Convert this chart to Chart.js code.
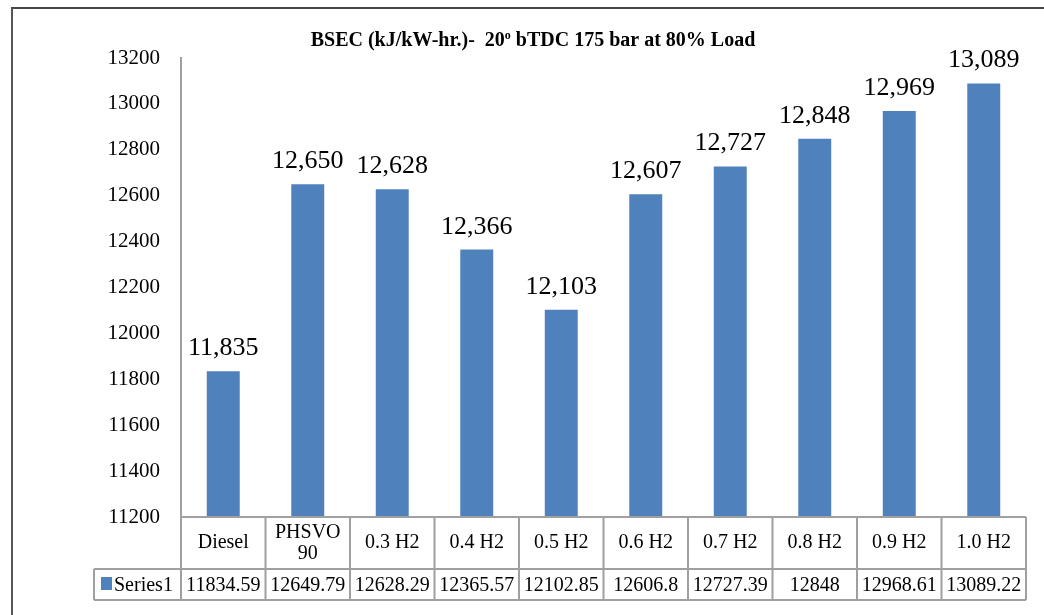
<!DOCTYPE html>
<html>
<head>
<meta charset="utf-8">
<script src="https://cdn.jsdelivr.net/npm/chart.js@4.4.0/dist/chart.umd.min.js"></script>
<style>
    html, body { margin: 0; padding: 0; background: #fff; }
    #wrap { position: relative; width: 1044px; height: 615px; overflow: hidden; }
    #frame { position: absolute; left: 11px; top: 7px; width: 1100px; height: 700px;
             border-left: 2px solid #555; border-top: 2px solid #444; }
    canvas { position: absolute; left: 0; top: 0; }
</style>
</head>
<body>
<div id="wrap">
    <div id="frame"></div>
    <canvas id="bsec-chart" width="1044" height="615"></canvas>
</div>
<script>
const categories = ['Diesel', 'PHSVO\n90', '0.3 H2', '0.4 H2', '0.5 H2', '0.6 H2', '0.7 H2', '0.8 H2', '0.9 H2', '1.0 H2'];
const series1 = [11834.59, 12649.79, 12628.29, 12365.57, 12102.85, 12606.8, 12727.39, 12848, 12968.61, 13089.22];
const seriesName = 'Series1';
const yMin = 11200;
const yMax = 13200;
const yStep = 200;

const BAR_COLOR = '#4F81BD';
const LINE_COLOR = '#a0a0a0';
const SERIF = '"Liberation Serif", "Times New Roman", serif';

const titlePlugin = {
    id: 'titlePlugin',
    afterDraw(chart) {
        const ctx = chart.ctx;
        const parts = [
            { t: 'BSEC (kJ/kW-hr.)-  20', f: 'bold 20px ' + SERIF, dy: 0 },
            { t: 'o', f: 'bold 12px ' + SERIF, dy: -7 },
            { t: ' bTDC 175 bar at 80% Load', f: 'bold 20px ' + SERIF, dy: 0 }
        ];
        ctx.save();
        let total = 0;
        parts.forEach(p => { ctx.font = p.f; p.w = ctx.measureText(p.t).width; total += p.w; });
        let x = 533 - total / 2;
        ctx.fillStyle = '#000';
        ctx.textBaseline = 'alphabetic';
        ctx.textAlign = 'left';
        parts.forEach(p => {
            ctx.font = p.f;
            ctx.fillText(p.t, x, 46 + p.dy);
            x += p.w;
        });
        ctx.restore();
    }
};

const labelPlugin = {
    id: 'labelPlugin',
    afterDatasetsDraw(chart) {
        const ctx = chart.ctx;
        const meta = chart.getDatasetMeta(0);
        ctx.save();
        ctx.font = '26px ' + SERIF;
        ctx.fillStyle = '#000';
        ctx.textAlign = 'center';
        ctx.textBaseline = 'alphabetic';
        meta.data.forEach((bar, i) => {
            const txt = Math.round(series1[i]).toLocaleString('en-US');
            ctx.fillText(txt, bar.x, bar.y - 16);
        });
        ctx.restore();
    }
};

const tablePlugin = {
    id: 'tablePlugin',
    afterDraw(chart) {
        const ctx = chart.ctx;
        const xs = chart.scales.x;
        const area = chart.chartArea;
        const n = categories.length;
        const step = xs.width / n;
        const top = area.bottom;
        const mid = top + 52;
        const bot = mid + 31;
        const left = xs.left;
        const right = xs.right;
        const labelLeft = left - 87;

        ctx.save();
        ctx.strokeStyle = LINE_COLOR;
        ctx.lineWidth = 2;
        ctx.beginPath();
        ctx.moveTo(left, top); ctx.lineTo(right, top);
        ctx.moveTo(labelLeft, mid); ctx.lineTo(right, mid);
        ctx.moveTo(labelLeft, bot); ctx.lineTo(right, bot);
        ctx.moveTo(labelLeft, mid); ctx.lineTo(labelLeft, bot);
        for (let i = 0; i <= n; i++) {
            const x = left + i * step;
            ctx.moveTo(x, top); ctx.lineTo(x, bot);
        }
        ctx.stroke();

        ctx.fillStyle = '#000';
        ctx.font = '20px ' + SERIF;
        ctx.textAlign = 'center';
        ctx.textBaseline = 'middle';
        categories.forEach((c, i) => {
            const cx = xs.getPixelForValue(i);
            const lines = c.split('\n');
            const lh = 21;
            const y0 = (top + mid) / 2 - (lines.length - 1) * lh / 2;
            lines.forEach((l, k) => ctx.fillText(l, cx, y0 + k * lh));
            ctx.fillText(String(series1[i]), cx, (mid + bot) / 2 + 1);
        });

        ctx.fillStyle = BAR_COLOR;
        ctx.fillRect(labelLeft + 7, mid + 8, 11, 13);
        ctx.fillStyle = '#000';
        ctx.textAlign = 'left';
        ctx.fillText(seriesName, labelLeft + 20, (mid + bot) / 2 + 1);
        ctx.restore();
    }
};

const ctx = document.getElementById('bsec-chart').getContext('2d');
const chart = new Chart(ctx, {
    type: 'bar',
    data: {
        labels: categories,
        datasets: [{
            label: seriesName,
            data: series1,
            backgroundColor: BAR_COLOR,
            borderWidth: 0,
            categoryPercentage: 1.0,
            barPercentage: 0.39
        }]
    },
    options: {
        responsive: false,
        animation: false,
        devicePixelRatio: 1,
        layout: { padding: { top: 58, right: 18, bottom: 98, left: 0 } },
        plugins: {
            legend: { display: false },
            title: { display: false },
            tooltip: { enabled: false }
        },
        scales: {
            x: {
                display: false
            },
            y: {
                min: yMin,
                max: yMax,
                afterFit(scale) { scale.width = 181; },
                ticks: {
                    stepSize: yStep,
                    color: '#000',
                    padding: 21,
                    font: { family: SERIF, size: 21 },
                    callback: (v) => String(v)
                },
                grid: { display: false, drawTicks: false },
                border: { display: true, color: LINE_COLOR, width: 2 }
            }
        }
    },
    plugins: [titlePlugin, labelPlugin, tablePlugin]
});
</script>
</body>
</html>
